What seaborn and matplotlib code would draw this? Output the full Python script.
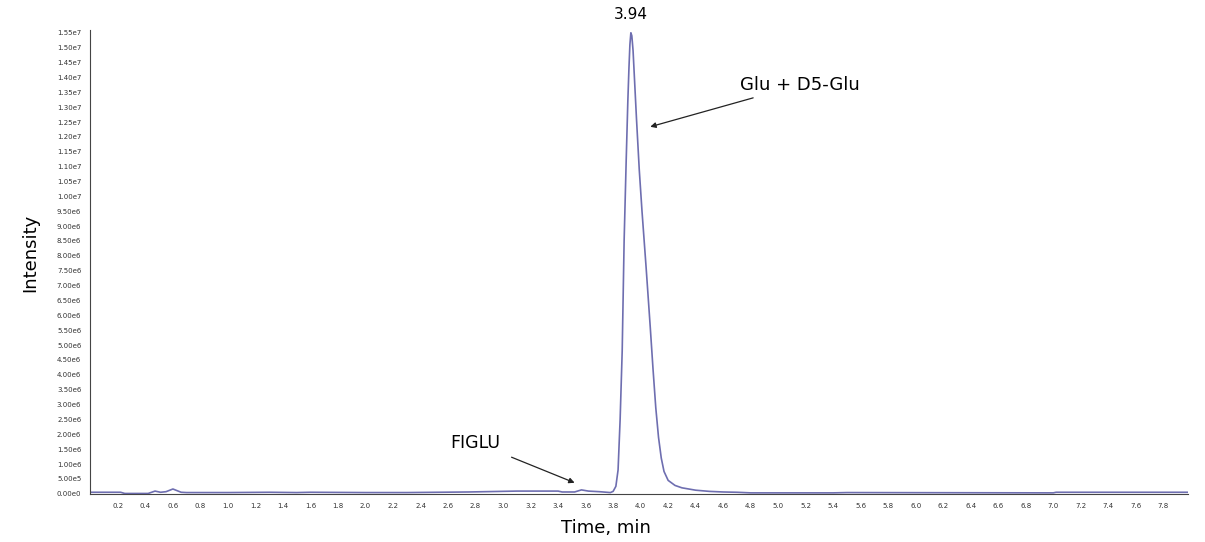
import pandas as pd
import seaborn as sns
import matplotlib.pyplot as plt
from matplotlib.ticker import MultipleLocator, FuncFormatter

# chromatogram trace (time in min, intensity in counts)
times = [0.00, 0.22, 0.25, 0.42, 0.47, 0.51, 0.55, 0.60, 0.66, 0.70, 1.00, 1.30, 1.50,
         1.60, 2.00, 2.30, 2.75, 3.10, 3.40, 3.43, 3.52, 3.57, 3.62, 3.70, 3.78, 3.80,
         3.82, 3.836, 3.851, 3.866, 3.880, 3.895, 3.907, 3.915, 3.922, 3.929, 3.936,
         3.945, 3.97, 3.99, 4.01, 4.04, 4.07, 4.09, 4.11, 4.13, 4.15, 4.17, 4.20, 4.25,
         4.30, 4.40, 4.50, 4.60, 4.70, 4.80, 5.40, 5.50, 7.00, 7.02, 7.98]
intensity = [5e4, 5e4, 1e4, 1e4, 9e4, 5e4, 7e4, 1.6e5, 5e4, 4e4, 4e4, 5e4, 4e4,
             5e4, 4e4, 4e4, 6e4, 9e4, 9e4, 6e4, 6e4, 1.3e5, 9e4, 7e4, 4e4, 8e4,
             2.5e5, 8e5, 2.5e6, 4.8e6, 8.5e6, 1.12e7, 1.32e7, 1.43e7, 1.51e7, 1.55e7, 1.54e7,
             1.49e7, 1.26e7, 1.09e7, 9.5e6, 7.6e6, 5.6e6, 4.2e6, 2.9e6, 1.9e6, 1.2e6, 7.5e5, 4.5e5, 2.8e5,
             2e5, 1.2e5, 8e4, 6e4, 5e4, 3e4, 3e4, 4e4, 3e4, 5e4, 5e4]

peak_label = "3.94"
peak_time = 3.93

df = pd.DataFrame({"Time": times, "Intensity": intensity})

sns.set_style("white")
fig = plt.figure(figsize=(12.05, 5.42), dpi=100)
ax = fig.add_axes([0.075, 0.089, 0.911, 0.856])

sns.lineplot(data=df, x="Time", y="Intensity", color="#6e6eb0", linewidth=1.2, ax=ax)

ax.set_xlim(0, 7.98)
ax.set_ylim(0, 1.56e7)

def sci_fmt(v, pos):
    s = f"{v:.2e}"
    mant, exp = s.split("e")
    return f"{mant}e{int(exp)}"

ax.yaxis.set_major_locator(MultipleLocator(5e5))
ax.yaxis.set_major_formatter(FuncFormatter(sci_fmt))
ax.xaxis.set_major_locator(MultipleLocator(0.2))
ax.xaxis.set_minor_locator(MultipleLocator(0.1))
ax.xaxis.set_major_formatter(FuncFormatter(lambda v, p: "" if v < 0.1 else f"{v:.1f}"))
ax.tick_params(axis="both", which="major", labelsize=5, length=3, width=0.6,
               colors="#444444", direction="out")
ax.tick_params(axis="x", which="minor", length=2, width=0.5, color="#444444")
for lab in ax.get_xticklabels() + ax.get_yticklabels():
    lab.set_color("#333333")

sns.despine(ax=ax)
ax.spines["left"].set_color("#444444")
ax.spines["bottom"].set_color("#444444")

ax.set_xlabel("Time, min", fontsize=13, color="black")
ax.set_ylabel("Intensity", fontsize=13, color="black")
ax.xaxis.set_label_coords(0.47, -0.055)
ax.yaxis.set_label_coords(-0.047, 0.52)

ax.text(peak_time, 1.585e7, peak_label, ha="center", va="bottom", fontsize=11,
        color="black", clip_on=False)

ax.annotate("Glu + D5-Glu", xy=(4.07, 1.234e7), xytext=(4.72, 1.375e7),
            fontsize=13, va="center", ha="left", color="black",
            arrowprops=dict(arrowstyle="-|>", color="#222222", lw=0.9,
                            shrinkA=2, shrinkB=0, mutation_scale=8))
ax.annotate("FIGLU", xy=(3.52, 3.7e5), xytext=(2.8, 1.72e6),
            fontsize=12.5, va="center", ha="center", color="black",
            arrowprops=dict(arrowstyle="-|>", color="#222222", lw=0.9,
                            shrinkA=6, shrinkB=0, mutation_scale=8))

fig.savefig("out.png", dpi=100)
